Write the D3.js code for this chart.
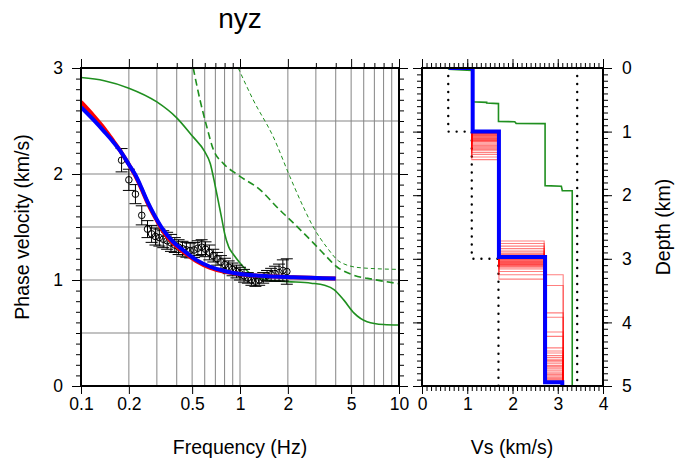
<!DOCTYPE html>
<html>
<head>
<meta charset="utf-8">
<script src="https://cdn.jsdelivr.net/npm/d3@7"></script>
<style>
  body { margin: 0; background: #fff; }
  svg { display: block; font-family: "Liberation Sans", Arial, sans-serif; }
  .grid line { stroke: #858585; stroke-width: 1; }
  .axis text { font-size: 17.5px; fill: #000; }
  .axis line { stroke: #000; stroke-width: 1; }
  .axis-title { font-size: 19.5px; fill: #000; }
</style>
</head>
<body>
<div id="chart"></div>
<script>
const titleText = "nyz";

// dispersion panel ticks
const freqLabels = [0.1, 0.2, 0.5, 1, 2, 5, 10];
const velLabels = [0, 1, 2, 3];
const velGrid = [0.5, 1, 1.5, 2, 2.5];

// observed phase velocity (Hz, km/s, error)
const obsFreq = [0.180, 0.200, 0.220, 0.241, 0.262, 0.278, 0.294, 0.311, 0.329, 0.348,
  0.368, 0.389, 0.411, 0.435, 0.460, 0.486, 0.514, 0.543, 0.574, 0.607,
  0.642, 0.679, 0.718, 0.759, 0.803, 0.849, 0.898, 0.950, 1.00, 1.06,
  1.12, 1.18, 1.25, 1.32, 1.40, 1.48, 1.57, 1.66, 1.76, 1.86, 1.97];
const obsVel = [2.13, 1.945, 1.81, 1.61, 1.48, 1.435, 1.41, 1.40, 1.385, 1.37,
  1.35, 1.33, 1.31, 1.295, 1.285, 1.278, 1.283, 1.30, 1.31, 1.29,
  1.26, 1.23, 1.20, 1.17, 1.145, 1.12, 1.10, 1.08, 1.06, 1.04,
  1.02, 1.00, 0.99, 1.00, 1.02, 1.04, 1.05, 1.06, 1.07, 1.09, 1.08];
const obsErr = [0.11, 0.10, 0.09, 0.09, 0.08, 0.08, 0.08, 0.08, 0.08, 0.08,
  0.08, 0.07, 0.07, 0.07, 0.07, 0.07, 0.07, 0.07, 0.07, 0.07,
  0.07, 0.06, 0.06, 0.06, 0.06, 0.06, 0.06, 0.06, 0.06, 0.06,
  0.05, 0.05, 0.05, 0.05, 0.05, 0.05, 0.06, 0.07, 0.08, 0.10, 0.12];

// best model (blue) and mean model (red) dispersion curves
const modelFreq = [0.10, 0.12, 0.14, 0.16, 0.18, 0.20, 0.22, 0.24, 0.26, 0.29,
  0.33, 0.38, 0.44, 0.53, 0.65, 0.82, 1.0, 1.34, 2.16, 4.0];
const bestVel = [2.63, 2.51, 2.40, 2.30, 2.20, 2.09, 1.99, 1.87, 1.75, 1.61,
  1.47, 1.36, 1.28, 1.19, 1.125, 1.08, 1.057, 1.04, 1.025, 1.013];
const meanVel = [2.68, 2.55, 2.43, 2.31, 2.20, 2.09, 1.98, 1.86, 1.74, 1.60,
  1.455, 1.345, 1.265, 1.18, 1.115, 1.075, 1.055, 1.04, 1.025, 1.013];

// initial model modes (green)
const mode0Freq = [0.1, 0.14, 0.2, 0.3, 0.4, 0.5, 0.6, 0.65, 0.7, 0.74, 0.77, 0.8, 0.85, 0.91,
  1.0, 1.15, 1.45, 2.0, 2.8, 3.4, 3.9, 4.5, 5.2, 6.3, 8.0, 10];
const mode0Vel = [2.91, 2.88, 2.81, 2.68, 2.53, 2.36, 2.21, 2.10, 1.88, 1.70, 1.57, 1.44, 1.31, 1.24,
  1.16, 1.065, 1.00, 0.985, 0.97, 0.95, 0.91, 0.81, 0.69, 0.607, 0.58, 0.575];
const mode1Freq = [0.508, 0.56, 0.617, 0.68, 0.785, 0.95, 1.34, 1.78, 2.06, 2.89, 3.5, 4.06, 5.16, 6.9, 10];
const mode1Vel = [3.0, 2.70, 2.45, 2.23, 2.10, 2.0, 1.85, 1.66, 1.57, 1.35, 1.22, 1.125, 1.047, 1.006, 0.965];
const mode2Freq = [0.975, 1.21, 1.62, 2.06, 2.5, 2.89, 3.51, 4.26, 5.69, 10];
const mode2Vel = [3.0, 2.70, 2.35, 1.975, 1.69, 1.50, 1.31, 1.17, 1.116, 1.10];

// velocity profile panel
const vsLabels = [0, 1, 2, 3, 4];
const depthLabels = [0, 1, 2, 3, 4, 5];
const bestVs = [0.6, 1.12, 1.7, 2.72, 3.1];
const bestTop = [0, 0, 1.0, 2.97, 4.94];
const ensVs = [0.6, 1.1, 1.7, 2.7, 3.12];
const ensD1 = [0.99, 1.00, 1.01, 1.02, 1.03, 1.04, 1.05, 1.06, 1.07, 1.08, 1.09, 1.10, 1.11, 1.12, 1.13,
  1.14, 1.15, 1.16, 1.18, 1.20, 1.22, 1.24, 1.26, 1.28, 1.30, 1.33, 1.36, 1.40, 1.44, 1.02];
const ensD2 = [2.72, 2.76, 2.80, 2.84, 2.88, 2.91, 2.93, 2.95, 2.97, 2.98, 2.99, 3.00, 3.01, 3.02, 3.03,
  3.04, 3.05, 3.06, 3.07, 3.08, 3.09, 3.10, 3.11, 3.12, 3.14, 3.16, 3.20, 3.25, 3.32, 2.96];
const ensD3 = [3.25, 3.42, 3.85, 3.92, 4.15, 4.22, 4.40, 4.45, 4.48, 4.52, 4.55, 4.58, 4.62, 4.65, 4.68,
  4.70, 4.72, 4.75, 4.78, 4.80, 4.82, 4.84, 4.86, 4.88, 4.90, 4.92, 4.94, 4.95, 4.96, 4.60];
const initVs = [0.58, 1.10, 1.10, 1.43, 1.43, 1.69, 1.69, 2.05, 2.08, 2.72, 2.72, 3.08, 3.10, 3.32, 3.32];
const initDepth = [0.02, 0.04, 0.53, 0.54, 0.55, 0.56, 0.84, 0.845, 0.87, 0.875, 1.85, 1.86, 1.93, 1.93, 5.0];
const minVs = [0.58, 1.1, 1.69];
const minTop = [0, 1.0, 3.0];
const maxVs = [3.43];
const maxTop = [0];

(function () {
  const width = 675;
  const height = 465;
  const green = "#1f8f1f";

  const svg = d3.select("#chart").append("svg")
    .attr("width", width)
    .attr("height", height);

  const x = d3.scaleLog().domain([0.1, 10]).range([81, 399]);
  const y = d3.scaleLinear().domain([0, 3]).range([386, 68]);
  const vx = d3.scaleLinear().domain([0, 4]).range([422, 603]);
  const dy = d3.scaleLinear().domain([0, 5]).range([68, 386]);

  const defs = svg.append("defs");
  defs.append("clipPath").attr("id", "clip-left")
    .append("rect").attr("x", 81).attr("y", 68).attr("width", 318).attr("height", 318);
  defs.append("clipPath").attr("id", "clip-right")
    .append("rect").attr("x", 422).attr("y", 67).attr("width", 181).attr("height", 320);

  svg.append("text")
    .attr("x", 240).attr("y", 28)
    .attr("text-anchor", "middle")
    .style("font-size", "28px")
    .text(titleText);

  // ---- left panel: dispersion ----
  const freqAll = x.ticks();

  svg.append("g").attr("class", "grid")
    .selectAll("line").data(freqAll).join("line")
    .attr("x1", (d) => x(d)).attr("x2", (d) => x(d))
    .attr("y1", 68).attr("y2", 386);

  svg.append("g").attr("class", "grid")
    .selectAll("line").data(velGrid).join("line")
    .attr("x1", 81).attr("x2", 399)
    .attr("y1", (d) => y(d)).attr("y2", (d) => y(d));

  const minorVel = d3.range(0, 3.001, 0.1);
  const isMajorF = (d) => freqLabels.some((t) => Math.abs(t - d) < 1e-9);

  svg.append("g").attr("class", "axis")
    .attr("transform", "translate(81,0)")
    .call(d3.axisLeft(y).tickValues(minorVel).tickSize(5).tickFormat(""));
  svg.append("g").attr("class", "axis")
    .attr("transform", "translate(81,0)")
    .call(d3.axisLeft(y).tickValues(velLabels).tickSize(9).tickPadding(9).tickFormat(d3.format("d")));
  svg.append("g").attr("class", "axis")
    .attr("transform", "translate(399,0)")
    .call(d3.axisRight(y).tickValues(minorVel).tickSize(5).tickFormat(""));
  svg.append("g").attr("class", "axis")
    .attr("transform", "translate(399,0)")
    .call(d3.axisRight(y).tickValues(velLabels).tickSize(9).tickFormat(""));
  svg.append("g").attr("class", "axis")
    .attr("transform", "translate(0,68)")
    .call(d3.axisTop(x).tickValues(freqAll).tickSizeInner(5).tickSizeOuter(0).tickFormat(""))
    .selectAll(".tick line").attr("y2", (d) => (isMajorF(d) ? -9 : -5));
  svg.append("g").attr("class", "axis")
    .attr("transform", "translate(0,386)")
    .call(d3.axisBottom(x).tickValues(freqLabels).tickSize(8).tickPadding(4).tickFormat((d) => String(d)));

  const lineF = (fs, vs) => d3.line().curve(d3.curveMonotoneX)
    .x((i) => x(fs[i])).y((i) => y(vs[i]))(d3.range(fs.length));

  const curves = svg.append("g").attr("clip-path", "url(#clip-left)");

  curves.append("path").attr("d", lineF(mode0Freq, mode0Vel))
    .attr("fill", "none").attr("stroke", green).attr("stroke-width", 1.6);
  curves.append("path").attr("d", lineF(mode1Freq, mode1Vel))
    .attr("fill", "none").attr("stroke", green).attr("stroke-width", 1.6)
    .attr("stroke-dasharray", "7,4");
  curves.append("path").attr("d", lineF(mode2Freq, mode2Vel))
    .attr("fill", "none").attr("stroke", green).attr("stroke-width", 1)
    .attr("stroke-dasharray", "4,3");

  const obs = curves.append("g").attr("fill", "none").attr("stroke", "#000").attr("stroke-width", 1);
  const idx = d3.range(obsFreq.length);
  obs.selectAll(".bar").data(idx).join("path")
    .attr("d", (i) => {
      const cx = x(obsFreq[i]);
      const y0 = y(obsVel[i] - obsErr[i]);
      const y1 = y(obsVel[i] + obsErr[i]);
      return `M${cx},${y0}V${y1}M${cx - 6},${y0}H${cx + 6}M${cx - 6},${y1}H${cx + 6}`;
    });
  obs.selectAll("circle").data(idx).join("circle")
    .attr("cx", (i) => x(obsFreq[i]))
    .attr("cy", (i) => y(obsVel[i]))
    .attr("r", 3.3);

  curves.append("path").attr("d", lineF(modelFreq, meanVel))
    .attr("fill", "none").attr("stroke", "#ff0000").attr("stroke-width", 4);
  curves.append("path").attr("d", lineF(modelFreq, bestVel))
    .attr("fill", "none").attr("stroke", "#0000ff").attr("stroke-width", 4);

  svg.append("rect")
    .attr("x", 81).attr("y", 68).attr("width", 318).attr("height", 318)
    .attr("fill", "none").attr("stroke", "#000").attr("stroke-width", 2);

  svg.append("text").attr("class", "axis-title")
    .attr("x", 240).attr("y", 454).attr("text-anchor", "middle")
    .text("Frequency (Hz)");
  svg.append("text").attr("class", "axis-title")
    .attr("transform", "translate(29,227) rotate(-90)")
    .attr("text-anchor", "middle")
    .text("Phase velocity (km/s)");

  // ---- right panel: Vs profile ----
  const minorVs = d3.range(0, 4.001, 0.1);
  const minorDepth = d3.range(0, 5.001, 0.1);

  svg.append("g").attr("class", "axis")
    .attr("transform", "translate(0,68)")
    .call(d3.axisTop(vx).tickValues(minorVs).tickSize(5).tickFormat(""));
  svg.append("g").attr("class", "axis")
    .attr("transform", "translate(0,68)")
    .call(d3.axisTop(vx).tickValues(vsLabels).tickSize(9).tickFormat(""));
  svg.append("g").attr("class", "axis")
    .attr("transform", "translate(0,386)")
    .call(d3.axisBottom(vx).tickValues(minorVs).tickSize(5).tickFormat(""));
  svg.append("g").attr("class", "axis")
    .attr("transform", "translate(0,386)")
    .call(d3.axisBottom(vx).tickValues(vsLabels).tickSize(8).tickPadding(4).tickFormat(d3.format("d")));
  svg.append("g").attr("class", "axis")
    .attr("transform", "translate(422,0)")
    .call(d3.axisLeft(dy).tickValues(minorDepth).tickSize(5).tickFormat(""));
  svg.append("g").attr("class", "axis")
    .attr("transform", "translate(422,0)")
    .call(d3.axisLeft(dy).tickValues(depthLabels).tickSize(9).tickFormat(""));
  svg.append("g").attr("class", "axis")
    .attr("transform", "translate(603,0)")
    .call(d3.axisRight(dy).tickValues(minorDepth).tickSize(5).tickFormat(""));
  svg.append("g").attr("class", "axis")
    .attr("transform", "translate(603,0)")
    .call(d3.axisRight(dy).tickValues(depthLabels).tickSize(9).tickPadding(10).tickFormat(d3.format("d")));

  svg.selectAll(".axis .domain").remove();

  const stepLine = (vsArr, topArr) => {
    const pts = [];
    vsArr.forEach((v, i) => {
      const bottom = i + 1 < topArr.length ? topArr[i + 1] : 5;
      pts.push([vx(v), dy(topArr[i])], [vx(v), dy(bottom)]);
    });
    return d3.line()(pts);
  };

  const prof = svg.append("g").attr("clip-path", "url(#clip-right)").attr("fill", "none");

  prof.append("path").attr("d", stepLine(minVs, minTop))
    .attr("stroke", "#000").attr("stroke-width", 2.4)
    .attr("stroke-linecap", "round").attr("stroke-dasharray", "0,8");
  prof.append("path").attr("d", stepLine(maxVs, maxTop))
    .attr("stroke", "#000").attr("stroke-width", 2.4)
    .attr("stroke-linecap", "round").attr("stroke-dasharray", "0,8");

  prof.append("path")
    .attr("d", d3.line().x((i) => vx(initVs[i])).y((i) => dy(initDepth[i]))(d3.range(initVs.length)))
    .attr("stroke", green).attr("stroke-width", 1.6);

  prof.selectAll(".ens").data(d3.range(ensD1.length)).join("path")
    .attr("d", (i) => stepLine(ensVs, [0, 0, ensD1[i], ensD2[i], ensD3[i]]))
    .attr("stroke", "#ff0000").attr("stroke-width", 1.1).attr("stroke-opacity", 0.5);

  prof.append("path").attr("d", stepLine(bestVs, bestTop))
    .attr("stroke", "#0000ff").attr("stroke-width", 4);

  svg.append("rect")
    .attr("x", 422).attr("y", 68).attr("width", 181).attr("height", 318)
    .attr("fill", "none").attr("stroke", "#000").attr("stroke-width", 2);

  svg.append("text").attr("class", "axis-title")
    .attr("x", 512).attr("y", 454).attr("text-anchor", "middle")
    .text("Vs (km/s)");
  svg.append("text").attr("class", "axis-title")
    .attr("transform", "translate(670,227) rotate(-90)")
    .attr("text-anchor", "middle")
    .text("Depth (km)");
})();
</script>
</body>
</html>
